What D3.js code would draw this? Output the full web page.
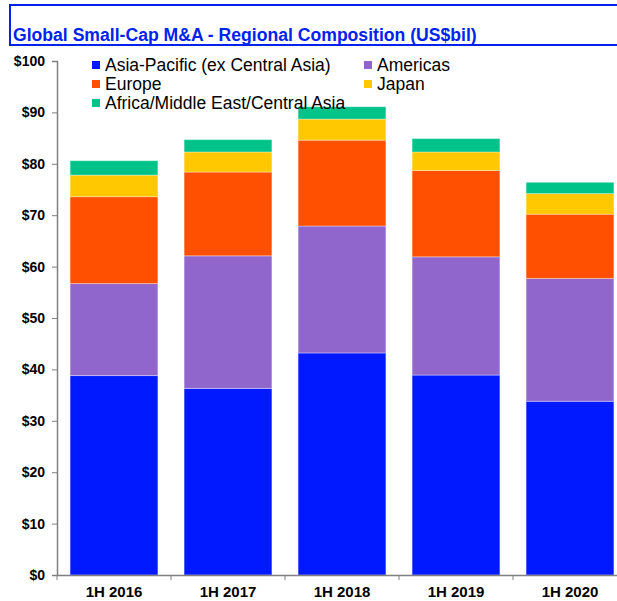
<!DOCTYPE html>
<html>
<head>
<meta charset="utf-8">
<script src="https://cdn.jsdelivr.net/npm/d3@7"></script>
<style>
  body { margin: 0; background: #fff; }
  text { font-family: "Liberation Sans", Arial, sans-serif; }
</style>
</head>
<body>
<script>
var width = 617;
var height = 601;

// data (US$bil)
var periods = ["1H 2016", "1H 2017", "1H 2018", "1H 2019", "1H 2020"];
var regions = ["Asia-Pacific (ex Central Asia)", "Americas", "Europe", "Japan", "Africa/Middle East/Central Asia"];
var asiaPacific = [38.8, 36.3, 43.2, 38.9, 33.8];
var americas    = [17.9, 25.8, 24.7, 23.0, 23.9];
var europe      = [16.9, 16.3, 16.7, 16.8, 12.5];
var japan       = [4.2, 3.9, 4.1, 3.6, 4.0];
var africaME    = [2.8, 2.4, 2.4, 2.6, 2.2];
var yTicks = [0, 10, 20, 30, 40, 50, 60, 70, 80, 90, 100];

var colors = ["#0019ff", "#9066cc", "#ff4f00", "#ffc800", "#00c389"];
var series = [asiaPacific, americas, europe, japan, africaME];

// table for the stack
var table = periods.map(function (p, i) {
    var row = { period: p };
    regions.forEach(function (r, k) { row[r] = series[k][i]; });
    return row;
});

var svg = d3.select("body").append("svg")
    .attr("width", width)
    .attr("height", height);

// title box
svg.append("rect")
    .attr("x", 10).attr("y", 5)
    .attr("width", width).attr("height", 40)
    .attr("fill", "none")
    .attr("stroke", "#0022ee")
    .attr("stroke-width", 2);

svg.append("text")
    .attr("x", 13).attr("y", 41)
    .attr("fill", "#0022ee")
    .attr("font-weight", "bold")
    .attr("font-size", "17.6px")
    .text("Global Small-Cap M&A - Regional Composition (US$bil)");

var x = d3.scaleBand()
    .domain(periods)
    .range([57, 627])
    .paddingInner(0.23)
    .paddingOuter(0.115);

var y = d3.scaleLinear()
    .domain([0, 100])
    .range([575, 61]);

var stack = d3.stack().keys(regions);
var layers = stack(table);

svg.append("g").selectAll("g")
    .data(layers)
    .join("g")
    .attr("fill", function (d, i) { return colors[i]; })
    .selectAll("rect")
    .data(function (d) { return d; })
    .join("rect")
    .attr("x", function (d) { return x(d.data.period); })
    .attr("y", function (d) { return y(d[1]); })
    .attr("width", x.bandwidth())
    .attr("height", function (d) { return y(d[0]) - y(d[1]); })
    .attr("stroke", "rgba(255,255,255,0.35)")
    .attr("stroke-width", 1);

// y axis
var yAxis = svg.append("g")
    .attr("transform", "translate(57,0)")
    .call(d3.axisLeft(y).tickValues(yTicks).tickSize(5).tickPadding(7)
        .tickFormat(function (d) { return "$" + d; }));
yAxis.select(".domain").attr("stroke", "#808080").attr("stroke-width", 1.5);
yAxis.selectAll(".tick line").attr("stroke", "#808080");
yAxis.selectAll("text")
    .attr("font-size", "14px")
    .attr("font-weight", "bold")
    .attr("fill", "#000")
    .style("font-family", "'Liberation Sans', Arial, sans-serif");

// x axis
var xAxis = svg.append("g")
    .attr("transform", "translate(0,575)")
    .call(d3.axisBottom(x).tickSize(0).tickPadding(11));
xAxis.select(".domain").attr("stroke", "#808080").attr("stroke-width", 1.5);
xAxis.selectAll("text")
    .attr("font-size", "15px")
    .attr("font-weight", "bold")
    .attr("fill", "#000")
    .style("font-family", "'Liberation Sans', Arial, sans-serif");

// tick marks between categories
var step = x.step();
svg.append("g").selectAll("line")
    .data(periods)
    .join("line")
    .attr("x1", function (d) { return x(d) - x.paddingInner() * step / 2; })
    .attr("x2", function (d) { return x(d) - x.paddingInner() * step / 2; })
    .attr("y1", 575).attr("y2", 580)
    .attr("stroke", "#808080");

// legend
var legendPos = [[92, 61], [364, 61], [92, 80], [364, 80], [92, 99]];
var legend = svg.append("g").selectAll("g")
    .data(regions)
    .join("g")
    .attr("transform", function (d, i) { return "translate(" + legendPos[i][0] + "," + legendPos[i][1] + ")"; });
legend.append("rect")
    .attr("width", 8).attr("height", 8)
    .attr("fill", function (d, i) { return colors[i]; });
legend.append("text")
    .attr("x", 13).attr("y", 10)
    .attr("font-size", "17.5px")
    .attr("fill", "#000")
    .text(function (d) { return d; });
</script>
</body>
</html>
